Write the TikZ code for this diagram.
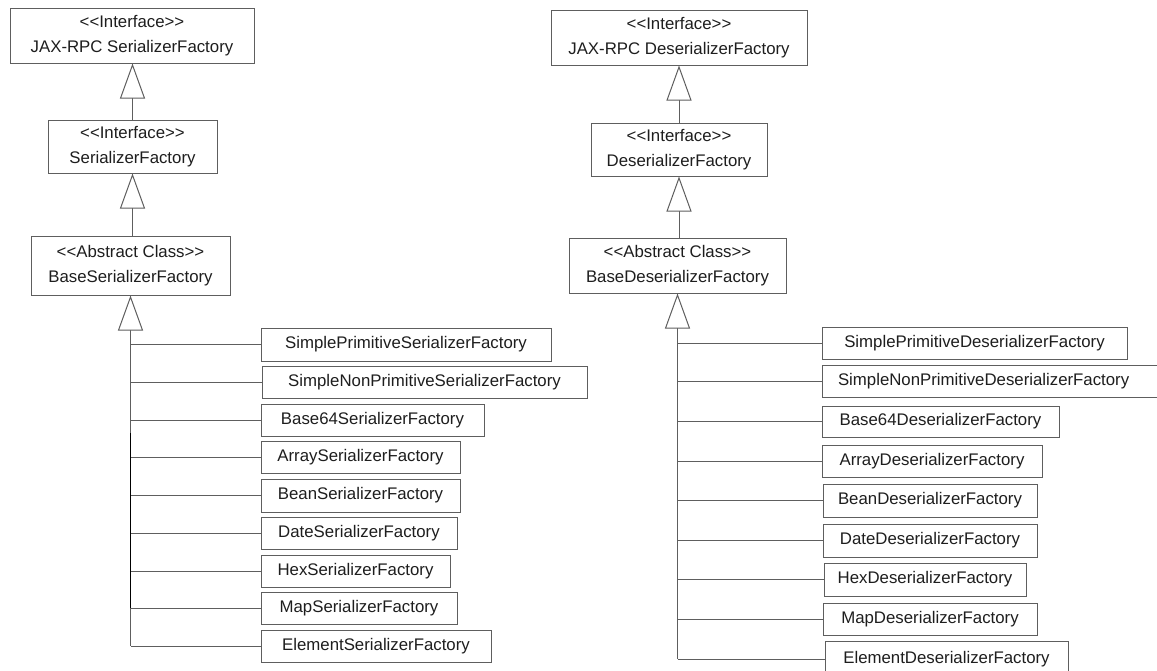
\documentclass[tikz,border=0pt]{standalone}
\usepackage{fontspec}
\setmainfont{Liberation Sans}[Ligatures=TeXOff]
\usetikzlibrary{arrows.meta}
\definecolor{edgegray}{HTML}{5E5E5E}
\definecolor{inkgray}{HTML}{1E1E1E}
\newcommand{\stereo}[1]{<{}<#1>{}>}
\tikzset{
  umlbox/.style={draw=edgegray, line width=1pt, fill=white, inner sep=0pt,
    align=center, text=inkgray, font=\fontsize{16.8}{25}\selectfont},
  gen/.style={draw=edgegray, line width=1pt,
    -{Triangle[open, length=35pt, width=25pt, fill=white]}},
  link/.style={draw=edgegray, line width=1pt}
}
\begin{document}
\begin{tikzpicture}[x=1pt, y=-1pt]
\useasboundingbox (0,0) rectangle (1157,670);
\clip (0,0) rectangle (1157,670);

% ---------- serializer side ----------
\node[umlbox, minimum width=244pt, minimum height=55pt] (ls1) at (132,35.5)
  {\stereo{Interface}\\JAX-RPC SerializerFactory};
\node[umlbox, minimum width=169pt, minimum height=53pt] (ls2) at (132.5,146.5)
  {\stereo{Interface}\\SerializerFactory};
\node[umlbox, minimum width=199pt, minimum height=59pt] (ls3) at (130.5,265.5)
  {\stereo{Abstract Class}\\BaseSerializerFactory};

\node[umlbox, minimum width=290pt, minimum height=33pt] (c1) at (406,344.5) {SimplePrimitiveSerializerFactory};
\node[umlbox, minimum width=325pt, minimum height=32pt] (c2) at (424.5,382) {SimpleNonPrimitiveSerializerFactory};
\node[umlbox, minimum width=223pt, minimum height=32pt] (c3) at (372.5,420) {Base64SerializerFactory};
\node[umlbox, minimum width=199pt, minimum height=32pt] (c4) at (360.5,457) {ArraySerializerFactory};
\node[umlbox, minimum width=199pt, minimum height=33pt] (c5) at (360.5,495.5) {BeanSerializerFactory};
\node[umlbox, minimum width=196pt, minimum height=32pt] (c6) at (359,533) {DateSerializerFactory};
\node[umlbox, minimum width=189pt, minimum height=32pt] (c7) at (355.5,571) {HexSerializerFactory};
\node[umlbox, minimum width=196pt, minimum height=32pt] (c8) at (359,608) {MapSerializerFactory};
\node[umlbox, minimum width=230pt, minimum height=32pt] (c9) at (376,646) {ElementSerializerFactory};

\draw[gen] (ls2.north) -- (ls2.north |- ls1.south);
\draw[gen] (ls3.north -| ls2.south) -- (ls2.south);
\draw[gen] (c9.west -| ls3.south) -- (ls3.south);
\foreach \c in {c1,c2,c3,c4,c5,c6,c7,c8,c9}
  \draw[link] (\c.west) -- (\c.west -| ls3.south);
% heavier stretch of the trunk
\draw[black, line width=1.4pt] ([yshift=-13pt]c3.west -| ls3.south) -- (c8.west -| ls3.south);

% ---------- deserializer side ----------
\node[umlbox, minimum width=256pt, minimum height=55pt] (rs1) at (679,37.5)
  {\stereo{Interface}\\JAX-RPC DeserializerFactory};
\node[umlbox, minimum width=176pt, minimum height=53pt] (rs2) at (679,149.5)
  {\stereo{Interface}\\DeserializerFactory};
\node[umlbox, minimum width=217pt, minimum height=55pt] (rs3) at (677.5,265.5)
  {\stereo{Abstract Class}\\BaseDeserializerFactory};

\node[umlbox, minimum width=305pt, minimum height=32pt] (d1) at (974.5,343) {SimplePrimitiveDeserializerFactory};
\node[umlbox, minimum width=340pt, minimum height=32pt, text width=320pt, align=left] (d2) at (992,381) {\hspace{6pt}SimpleNonPrimitiveDeserializerFactory};
\node[umlbox, minimum width=237pt, minimum height=31pt] (d3) at (940.5,421.5) {Base64DeserializerFactory};
\node[umlbox, minimum width=220pt, minimum height=32pt] (d4) at (932,461) {ArrayDeserializerFactory};
\node[umlbox, minimum width=214pt, minimum height=33pt] (d5) at (930,500.5) {BeanDeserializerFactory};
\node[umlbox, minimum width=214pt, minimum height=33pt] (d6) at (930,540.5) {DateDeserializerFactory};
\node[umlbox, minimum width=202pt, minimum height=33pt] (d7) at (925,579.5) {HexDeserializerFactory};
\node[umlbox, minimum width=214pt, minimum height=32pt] (d8) at (930,619) {MapDeserializerFactory};
\node[umlbox, minimum width=243pt, minimum height=36pt] (d9) at (946.5,659) {ElementDeserializerFactory};

\draw[gen] (rs2.north) -- (rs1.south);
\draw[gen] (rs3.north -| rs2.south) -- (rs2.south);
\draw[gen] (d9.west -| rs3.south) -- (rs3.south);
\foreach \d in {d1,d2,d3,d4,d5,d6,d7,d8,d9}
  \draw[link] (\d.west) -- (\d.west -| rs3.south);
\end{tikzpicture}
\end{document}
